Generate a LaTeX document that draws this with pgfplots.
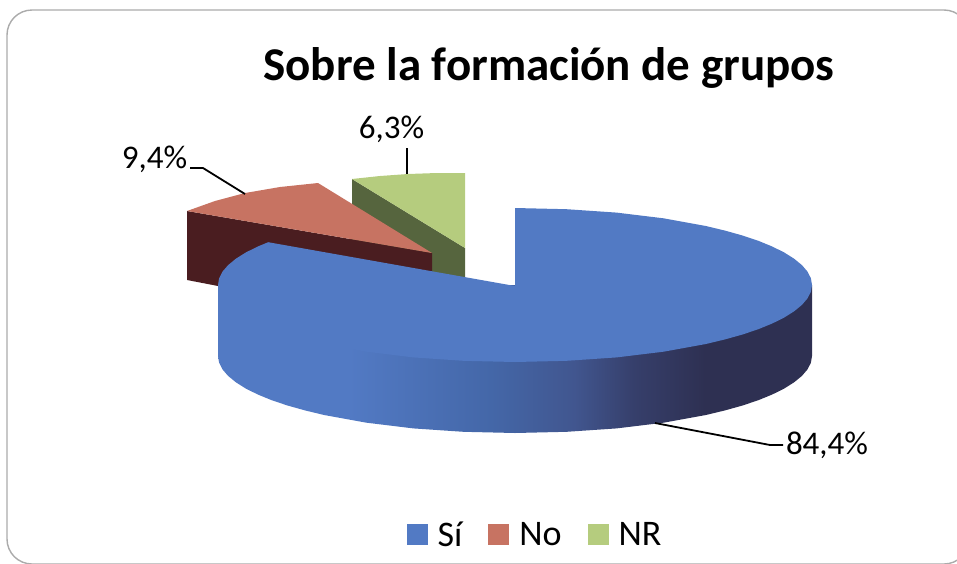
\documentclass[border=0pt]{standalone}
\usepackage{pgfplots}
\pgfplotsset{compat=1.18}
\usepackage{fontspec}
\setmainfont{Carlito}
\definecolor{bluetop}{HTML}{527AC4}
\definecolor{bluedark}{HTML}{2E3052}
\definecolor{redtop}{HTML}{C77362}
\definecolor{reddark}{HTML}{4A1D20}
\definecolor{greentop}{HTML}{B5CC7E}
\definecolor{greendark}{HTML}{56653E}
\definecolor{framegray}{HTML}{ABABAB}
\definecolor{wallA}{HTML}{4467A8}
\definecolor{wallB}{HTML}{41568F}
\definecolor{wallC}{HTML}{363F6B}
\pgfdeclarehorizontalshading{bluewall}{100bp}{color(0bp)=(bluetop); color(36bp)=(bluetop); color(48bp)=(wallA); color(55bp)=(wallB); color(60bp)=(wallC); color(66bp)=(bluedark); color(100bp)=(bluedark)}
\begin{document}
\begin{tikzpicture}
\clip (0,0) rectangle (957pt,563pt);
\begin{axis}[
  at={(0,0)}, anchor=south west,
  scale only axis, width=957pt, height=563pt,
  xmin=0, xmax=957, ymin=0, ymax=563, y dir=reverse,
  hide axis, clip=false,
  reverse legend,
  legend columns=3,
  legend style={draw=none, fill=none, at={(axis cs:535,535)}, anchor=center,
    font=\fontsize{36}{40}\selectfont,
    /tikz/every odd column/.append style={column sep=8pt},
    /tikz/every even column/.append style={column sep=24pt}},
  legend image code/.code={\fill[#1] (0pt,-10pt) rectangle (21pt,11pt);},
]
\draw[framegray, line width=1.4pt, rounded corners=25pt] (axis cs:7,564) -- (axis cs:7,10) -- (axis cs:969,10) -- (axis cs:969,564) -- cycle;

% NR
\addplot[forget plot, draw=none, fill=greendark] coordinates {(352,179)(465,248)(465,290)(352,250)} -- cycle;
\addplot[draw=none, fill=greentop] coordinates {(352,179)(380,176)(408,174)(437,173)(465,173)(465,248)} -- cycle;
\addlegendentry{NR}
% No
\addplot[forget plot, draw=none, fill=reddark] coordinates {(187,211)(432,253)(432,290)(230,290)(218,286)(187,280)} -- cycle;
\addplot[draw=none, fill=redtop] coordinates {(187,211)(215,201)(245,193)(280,187)(318,183)(432,253)} -- cycle;
\addlegendentry{No}
% Si wall
\addplot[forget plot, draw=none, shading=bluewall] coordinates {
 (812,285)(218,285)
 (218,356)(219.1,362.7)(222.5,369.4)(228.1,375.9)(235.9,382.3)(245.9,388.6)(257.8,394.5)(271.7,400.2)(287.5,405.5)(305,410.4)(324.1,415.0)(366.5,422.7)(413.4,428.4)(463.4,431.8)(515,433)
 (566.6,431.8)(616.6,428.4)(663.5,422.7)(705.9,415.0)(725,410.4)(742.5,405.5)(758.3,400.2)(772.2,394.5)(784.1,388.6)(794.1,382.3)(801.9,375.9)(807.5,369.4)(810.9,362.7)(812,356)
} -- cycle;
% Si top
\addplot[draw=none, fill=bluetop] coordinates {
 (515,286)(515,208)(566.6,209.2)(616.6,212.6)(663.5,218.3)(705.9,226.0)(725,230.6)(742.5,235.5)(758.3,240.8)(772.2,246.5)(784.1,252.4)(794.1,258.7)(801.9,265.1)(807.5,271.6)(810.9,278.3)
 (812,285)(810.9,291.7)(807.5,298.4)(801.9,304.9)(794.1,311.3)(784.1,317.6)(772.2,323.5)(758.3,329.2)(742.5,334.5)(725,339.4)(705.9,344.0)(663.5,351.7)(616.6,357.4)(566.6,360.8)(515,362)
 (463.4,360.8)(413.4,357.4)(366.5,351.7)(324.1,344.0)(305,339.4)(287.5,334.5)(271.7,329.2)(257.8,323.5)(245.9,317.6)(235.9,311.3)(228.1,304.9)(222.5,298.4)(219.1,291.7)(218,285)
 (219.1,278.3)(222.5,271.6)(228.1,265.1)(235.9,258.7)(245.9,252.4)(257.8,246.5)(268.2,242.2)
} -- cycle;
\addlegendentry{Sí}
% leaders
\addplot[forget plot, black, line width=1.8pt] coordinates {(190,168)(203,168)(245,194)};
\addplot[forget plot, black, line width=1.8pt] coordinates {(407,148)(407,174)};
\addplot[forget plot, black, line width=1.8pt] coordinates {(655,423)(770,445)(783,445)};

\node[anchor=base, font=\fontsize{47}{50}\selectfont\bfseries] at (axis cs:549,80) {Sobre la formación de grupos};
\node[anchor=center, font=\fontsize{33}{36}\selectfont] at (axis cs:154.5,159) {9,4\%};
\node[anchor=center, font=\fontsize{33}{36}\selectfont] at (axis cs:391.5,129) {6,3\%};
\node[anchor=center, font=\fontsize{33}{36}\selectfont] at (axis cs:827,445) {84,4\%};
\end{axis}
\end{tikzpicture}
\end{document}
